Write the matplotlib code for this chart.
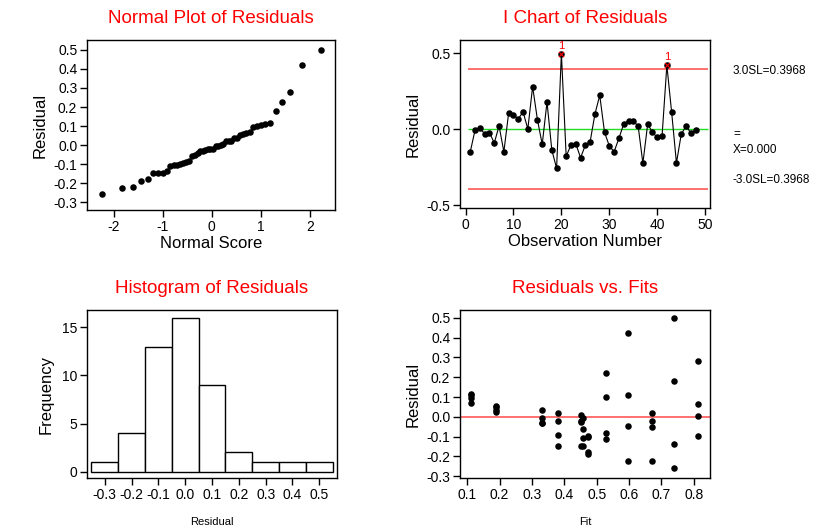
import matplotlib
matplotlib.use("Agg")
import matplotlib.pyplot as plt
import numpy as np
from statistics import NormalDist

plt.rcParams['font.family'] = ['Liberation Sans', 'DejaVu Sans']
plt.rcParams['axes.unicode_minus'] = False

# Residuals in observation order
residuals = [-0.147, -0.004, 0.007, -0.029, -0.022, -0.090, 0.022, -0.148,
             0.108, 0.095, 0.068, 0.116, 0.002, 0.281, 0.064, -0.099,
             0.180, -0.136, -0.257, 0.499, -0.178, -0.103, -0.095, -0.187,
             -0.105, -0.081, 0.101, 0.224, -0.020, -0.110, -0.148, -0.059,
             0.035, 0.057, 0.052, 0.024, -0.224, 0.035, -0.020, -0.053,
             -0.044, 0.422, 0.112, -0.222, -0.033, 0.022, -0.024, -0.004]
# Fitted values per observation (read from Residuals vs Fits)
fits = [0.452, 0.331, 0.452, 0.331, 0.452, 0.379, 0.379, 0.379,
        0.110, 0.110, 0.110, 0.110, 0.812, 0.812, 0.812, 0.812,
        0.740, 0.740, 0.740, 0.740, 0.473, 0.473, 0.473, 0.473,
        0.458, 0.529, 0.529, 0.529, 0.379, 0.529, 0.458, 0.458,
        0.331, 0.189, 0.189, 0.189, 0.672, 0.189, 0.672, 0.672,
        0.597, 0.597, 0.597, 0.597, 0.331, 0.672, 0.452, 0.458]
hist_centers = [-0.3, -0.2, -0.1, 0.0, 0.1, 0.2, 0.3, 0.4, 0.5]
hist_counts = [1, 4, 13, 16, 9, 2, 1, 1, 1]
ucl = 0.3968
lcl = -0.3968
center = 0.0
outlier_obs = [20, 42]

res = np.array(residuals)
n = len(res)
obs = np.arange(1, n + 1)
order = np.argsort(res)
ranks = np.empty(n)
ranks[order] = np.arange(1, n + 1)
nscores = np.array([NormalDist().inv_cdf((r - 0.375) / (n + 0.25)) for r in ranks])

W, H = 820, 532
fig = plt.figure(figsize=(W / 100, H / 100), dpi=100)

def ax_at(l, t, r, b):
    return fig.add_axes([l / W, 1 - b / H, (r - l) / W, (b - t) / H])

def style(ax):
    for s in ax.spines.values():
        s.set_linewidth(1.0)
        s.set_color('black')
    ax.tick_params(direction='out', length=5, width=1, labelsize=10, pad=2,
                   top=False, right=False)

title_kw = dict(color='red', fontsize=13.5)
fmt1 = lambda v: f"{v:.1f}"
dot = 22

# Normal plot
ax1 = ax_at(87, 40, 335, 210)
style(ax1)
ax1.scatter(nscores, res, s=dot, color='black', lw=0, zorder=3)
ax1.set_xlim(-2.54, 2.51)
ax1.set_ylim(-0.341, 0.552)
ax1.set_xticks([-2, -1, 0, 1, 2])
yt = [-0.3, -0.2, -0.1, 0.0, 0.1, 0.2, 0.3, 0.4, 0.5]
ax1.set_yticks(yt)
ax1.set_yticklabels([fmt1(v) for v in yt])
ax1.set_xlabel('Normal Score', fontsize=12, labelpad=2)
ax1.set_ylabel('Residual', fontsize=12, labelpad=4)
ax1.set_title('Normal Plot of Residuals', pad=12, **title_kw)

# I chart
ax2 = ax_at(460, 40, 710, 208)
style(ax2)
ax2.plot(obs, res, color='black', lw=0.8, zorder=3)
ax2.scatter(obs, res, s=dot, color='black', lw=0, zorder=4)
ax2.hlines([ucl, lcl], 0.5, 50.6, color='#ff6464', lw=1.3, zorder=2)
ax2.hlines([center], 0.5, 50.6, color='#22dd22', lw=1.0, zorder=2)
for o in outlier_obs:
    ax2.scatter([o], [res[o - 1]], marker='x', s=14, color='red', lw=0.8, zorder=5)
    ax2.text(o, res[o - 1] + 0.02, '1', color='red', fontsize=8, ha='center', va='bottom', zorder=5)
ax2.set_xlim(-1.15, 51.0)
ax2.set_ylim(-0.519, 0.589)
ax2.set_xticks([0, 10, 20, 30, 40, 50])
ax2.set_yticks([-0.5, 0.0, 0.5])
ax2.set_yticklabels([fmt1(v) for v in [-0.5, 0.0, 0.5]])
ax2.set_xlabel('Observation Number', fontsize=12, labelpad=2)
ax2.set_ylabel('Residual', fontsize=12, labelpad=4)
ax2.set_title('I Chart of Residuals', pad=12, **title_kw)
fig.text(733 / W, 1 - 71 / H, f'3.0SL={ucl:.4f}', fontsize=8.5, va='center')
fig.text(733 / W, 1 - 134 / H, '=', fontsize=8.5, va='center')
fig.text(733 / W, 1 - 150 / H, f'X={center:.3f}', fontsize=8.5, va='center')
fig.text(733 / W, 1 - 180 / H, f'-3.0SL={abs(lcl):.4f}', fontsize=8.5, va='center')

# Histogram
ax3 = ax_at(87, 310, 337, 478)
style(ax3)
ax3.bar(hist_centers, hist_counts, width=0.1, color='white', edgecolor='black', lw=1.0)
ax3.set_xlim(-0.366, 0.566)
ax3.set_ylim(-0.65, 16.8)
ax3.set_xticks(hist_centers)
ax3.set_xticklabels([fmt1(v) for v in hist_centers])
ax3.set_yticks([0, 5, 10, 15])
ax3.set_xlabel('Residual', fontsize=8, labelpad=11)
ax3.set_ylabel('Frequency', fontsize=12, labelpad=6)
ax3.set_title('Histogram of Residuals', pad=12, **title_kw)

# Residuals vs fits
ax4 = ax_at(460, 310, 710, 478)
style(ax4)
ax4.scatter(fits, res, s=dot, color='black', lw=0, zorder=3)
ax4.axhline(0, color='#ff6464', lw=1.3, zorder=2)
ax4.set_xlim(0.0775, 0.850)
ax4.set_ylim(-0.309, 0.54)
xt = [0.1, 0.2, 0.3, 0.4, 0.5, 0.6, 0.7, 0.8]
ax4.set_xticks(xt)
ax4.set_xticklabels([fmt1(v) for v in xt])
ax4.set_yticks(yt)
ax4.set_yticklabels([fmt1(v) for v in yt])
ax4.set_xlabel('Fit', fontsize=8, labelpad=11)
ax4.set_ylabel('Residual', fontsize=12, labelpad=4)
ax4.set_title('Residuals vs. Fits', pad=12, **title_kw)

fig.savefig('out.png', dpi=100)
